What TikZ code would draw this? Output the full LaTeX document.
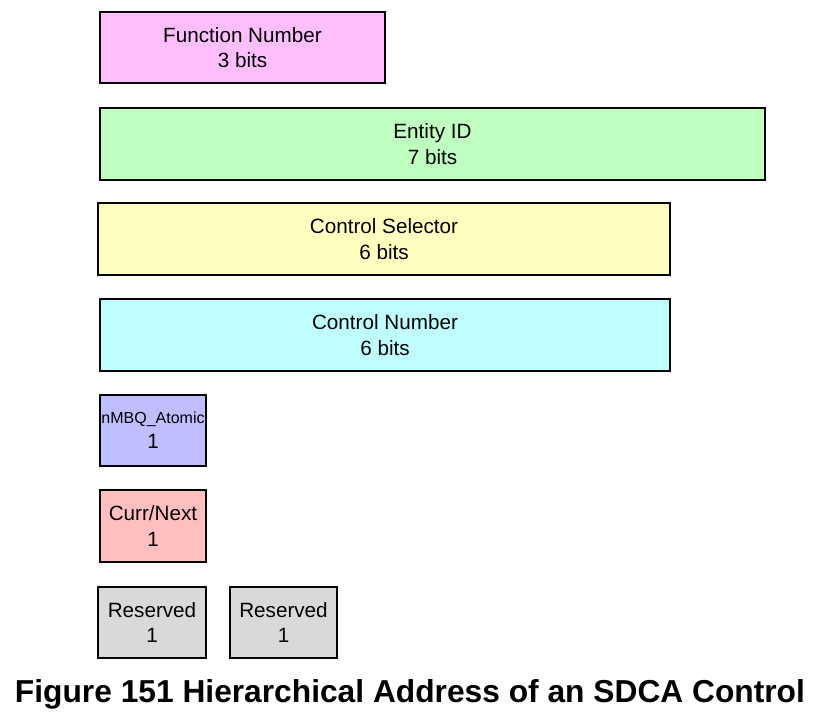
\documentclass[tikz,border=0pt]{standalone}
\usepackage{fontspec}
\setmainfont{Liberation Sans}
\definecolor{pinkc}{HTML}{FFBFFF}
\definecolor{greenc}{HTML}{BFFFBF}
\definecolor{yellowc}{HTML}{FFFFBF}
\definecolor{cyanc}{HTML}{BFFFFF}
\definecolor{bluec}{HTML}{BFBFFF}
\definecolor{redc}{HTML}{FFBFBF}
\definecolor{grayc}{HTML}{D9D9D9}
\tikzset{
  field/.style={draw=black, line width=1.8pt, inner sep=0pt, align=center,
    font=\fontsize{15.5}{19}\selectfont},
}
\begin{document}
\begin{tikzpicture}[x=0.75pt,y=-0.75pt]
\useasboundingbox (0,0) rectangle (814,719);
\node[field, fill=pinkc, minimum width=213.75pt, minimum height=53.25pt] (fn) at (242.5,47.5) {Function Number\\3 bits};
\node[field, fill=greenc, minimum width=498.75pt, minimum height=54pt] (ent) at (432.5,144) {Entity ID\\7 bits};
\node[field, fill=yellowc, minimum width=429pt, minimum height=54pt] (cs) at (384,239) {Control Selector\\6 bits};
\node[field, fill=cyanc, minimum width=427.5pt, minimum height=54pt] (cn) at (385,335) {Control Number\\6 bits};
\node[field, fill=bluec, minimum width=79.5pt, minimum height=53.25pt] (mbq) at (153,430.5) {{\fontsize{12}{19}\selectfont nMBQ\_Atomic}\\1};
\node[field, fill=redc, minimum width=79.5pt, minimum height=54pt] (cur) at (153,526) {Curr/Next\\1};
\node[field, fill=grayc, minimum width=81pt, minimum height=53.25pt] (r1) at (152,622.5) {Reserved\\1};
\node[field, fill=grayc, minimum width=80.25pt, minimum height=53.25pt] (r2) at (283.5,622.5) {Reserved\\1};
\node[font=\fontsize{23.8}{28}\selectfont\bfseries, inner sep=0pt] (title) at (410,694) {Figure 151 Hierarchical Address of an SDCA Control};
\end{tikzpicture}
\end{document}
